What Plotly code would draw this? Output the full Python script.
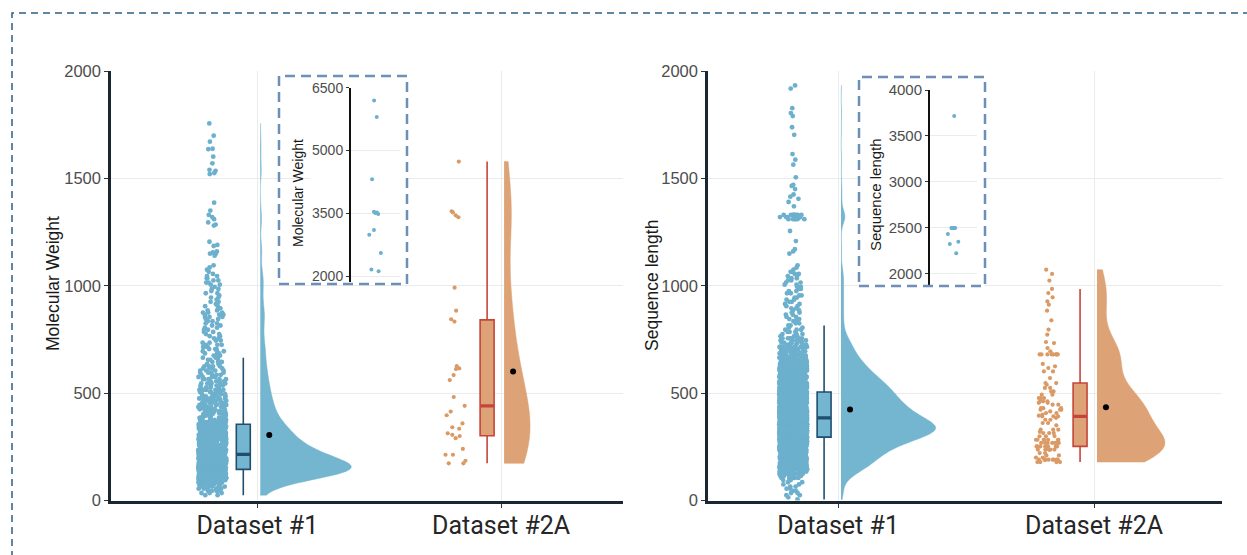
import numpy as np
import plotly.graph_objects as go

# ---------------- data ----------------
categories = ["Dataset #1", "Dataset #2A"]

# Dataset #1, molecular weight < 2000: counts per 10-unit bin, first bin centre 25
mw1_bin_first = 25
mw1_bin_counts = [
    2, 3, 4, 5, 7, 10, 15, 22, 33, 45,
    55, 61, 63, 60, 56, 52, 47, 43, 39, 36,
    33, 30, 28, 26, 24, 22, 21, 20, 19, 18,
    17, 16, 15, 15, 12, 11, 10, 10, 9, 9,
    8, 8, 8, 7, 7, 7, 6, 6, 6, 6,
    5, 5, 5, 5, 5, 4, 4, 4, 4, 4,
    4, 3, 3, 3, 3, 3, 3, 3, 3, 3,
    3, 2, 2, 2, 2, 2, 2, 2, 2, 2,
    2, 2, 2, 3, 3, 3, 2, 2, 2, 1,
    2, 1, 2, 1, 2, 1, 2, 1, 2, 2,
    2, 2, 2, 1, 1, 1, 1, 1,
]
mw1_sparse = [1140, 1150, 1150, 1155, 1160, 1185, 1190, 1205, 1280, 1285, 1295,
              1310, 1320, 1330, 1350, 1387, 1520, 1525, 1535, 1540, 1570, 1601,
              1636, 1638, 1671, 1699, 1756]
mw1_inset = [2117, 2164, 2552, 2993, 3104, 3483, 3507, 3524, 3538, 4313, 5798, 6192]

mw2a = [173, 173, 185, 213, 213, 240, 290, 300, 306, 313, 334, 341, 359, 397, 414,
        441, 482, 561, 584, 612, 615, 626, 833, 844, 884, 991, 1319, 1328, 1342,
        1347, 1578]

# Dataset #1, sequence length < 2000: counts per 10-unit bin, first bin centre 5
sl1_bin_first = 5
sl1_bin_counts = [
    1, 1, 2, 2, 2, 2, 2, 2, 2, 3,
    5, 8, 12, 15, 18, 20, 22, 25, 26, 28,
    30, 31, 34, 36, 39, 43, 47, 52, 57, 62,
    68, 74, 78, 80, 77, 72, 69, 66, 62, 59,
    56, 54, 52, 50, 48, 46, 45, 44, 42, 42,
    40, 38, 37, 35, 34, 32, 30, 28, 26, 24,
    22, 21, 19, 18, 16, 15, 14, 13, 11, 10,
    10, 9, 8, 8, 7, 6, 4, 3, 3, 3,
    2, 2, 2, 2, 2, 2, 2, 2, 2, 2,
    2, 2, 2, 2, 2, 2, 2, 2, 2, 2,
    2, 2, 2, 2, 2, 2, 2, 1, 1, 1,
]
sl1_sparse = [1150, 1160, 1170, 1208, 1255,
              1310, 1310, 1310, 1310, 1310, 1310,
              1320, 1320, 1320, 1320, 1320, 1320, 1320, 1320,
              1330, 1330, 1330, 1330, 1330, 1330, 1330, 1330,
              1370, 1390, 1405, 1415, 1425, 1450, 1465, 1470, 1505, 1564,
              1587, 1613, 1703, 1738, 1790, 1804, 1827, 1918, 1933]
sl1_inset = [2225, 2325, 2350, 2435, 2500, 2500, 2500, 2500, 2500, 2500, 3717]

sl2a = [1075, 1055, 1024, 985, 966, 946, 927, 912, 884, 839, 796, 772, 738, 733, 710, 695,
        680, 680, 680, 680, 680, 680, 680, 680,
        636, 625, 617, 601, 601, 570, 547, 547, 539,
        524, 524, 508, 508, 493, 493, 477, 477, 477, 462, 462, 462,
        455, 455, 446, 446, 430, 430, 430, 423, 423, 423, 415, 407, 407, 400,
        395, 392, 392, 392, 385,
        376, 376, 361, 361, 350,
        330, 330, 330, 320, 314, 314, 314, 300, 299, 299,
        283, 283, 283, 283, 283, 283, 283,
        268, 268, 268, 268, 268, 268, 268,
        252, 252, 252, 252, 252, 252, 252,
        237, 237, 237, 237, 237, 237,
        221, 221, 210, 210, 200, 200,
        190, 190, 190, 190, 190, 190, 190, 190, 190,
        179, 179, 179, 179]

y_titles = ["Molecular Weight", "Sequence length"]
main_ticks = [0, 500, 1000, 1500, 2000]
inset_ticks = [[2000, 3500, 5000, 6500], [2000, 2500, 3000, 3500, 4000]]


def expand(first, counts, step=10):
    centres = first + step * np.arange(len(counts))
    return np.repeat(centres, counts)


def nrd0(v):
    v = np.asarray(v, dtype=float)
    q75, q25 = np.percentile(v, [75, 25])
    lo = min(v.std(ddof=1), (q75 - q25) / 1.34)
    return 0.9 * lo * len(v) ** -0.2


mw1 = np.concatenate([expand(mw1_bin_first, mw1_bin_counts), mw1_sparse])
sl1 = np.concatenate([expand(sl1_bin_first, sl1_bin_counts), sl1_sparse])

# ---------------- styling ----------------
W, H = 1247, 555
BLUE_PT, BLUE_FILL, BLUE_LINE = "#6CB0CD", "#74B5D0", "#1F4E6E"
ORG_PT, ORG_FILL, ORG_LINE = "#DA9A66", "#DDA275", "#C5443C"
AX_COL = "#1C2630"
GRID = "#EBEBEB"
TICK_FONT = dict(family="Liberation Sans, Arial", size=16.5, color="#4D4D4D")
CAT_FONT = dict(family="Roboto, Liberation Sans", size=25, color="#262626")


def px_x(p):
    return p / W


def px_y(p):
    return 1 - p / H


panels = [
    dict(data=[mw1, np.array(mw2a)], inset=mw1_inset, ppu=244.0, xr=[-0.6, 1.5],
         dom=[111, 623], ax=("x", "y"), iax=("x2", "y2"), idom=[351, 400],
         iyr=[1870, 6500], iypx=[87.7, 281.7], half=[91, 26], ifont=14),
    dict(data=[sl1, np.array(sl2a)], inset=sl1_inset, ppu=257.0, xr=[-0.508, 1.5],
         dom=[708, 1222], ax=("x3", "y3"), iax=("x4", "y4"), idom=[930, 977],
         iyr=[1880, 4000], iypx=[90, 285], half=[95, 68], ifont=15),
]

fig = go.Figure()
for p in panels:
    xa, ya = p["ax"]
    ppu = p["ppu"]
    for i, vals in enumerate(p["data"]):
        pt_col, fill, lcol = (BLUE_PT, BLUE_FILL, BLUE_LINE) if i == 0 else (ORG_PT, ORG_FILL, ORG_LINE)
        pos = float(i)
        # jittered raw points
        fig.add_trace(go.Box(y=vals, x0=pos - 45 / ppu, width=28 / ppu, boxpoints="all",
                             jitter=1, pointpos=0, fillcolor="rgba(0,0,0,0)",
                             line=dict(color="rgba(0,0,0,0)", width=0),
                             marker=dict(color=pt_col, size=4.8 if i == 0 else 4.2,
                                         line=dict(width=0)),
                             whiskerwidth=0, hoverinfo="skip", xaxis=xa, yaxis=ya))
        # box (outliers hidden so whiskers stop at 1.5 IQR)
        bx = pos - 14 / ppu
        bw = 14 / ppu
        fig.add_trace(go.Box(y=vals, x0=bx, width=bw, boxpoints="outliers", fillcolor=fill,
                             marker=dict(color="rgba(0,0,0,0)", size=1, opacity=0,
                                         line=dict(width=0)),
                             line=dict(color=lcol, width=1.6), whiskerwidth=0,
                             hoverinfo="skip", xaxis=xa, yaxis=ya))
        med = float(np.median(vals))
        fig.add_trace(go.Scatter(x=[bx - bw / 2, bx + bw / 2], y=[med, med], mode="lines",
                                 line=dict(color=lcol, width=3.2), hoverinfo="skip",
                                 xaxis=xa, yaxis=ya))
        # half violin
        fig.add_trace(go.Violin(y=vals, x0=pos + 3 / ppu, side="positive",
                                width=2 * p["half"][i] / ppu, spanmode="hard",
                                bandwidth=nrd0(vals), points=False, fillcolor=fill,
                                line=dict(color=fill, width=0.5), scalemode="width",
                                box_visible=False, meanline_visible=False,
                                hoverinfo="skip", xaxis=xa, yaxis=ya))
        # mean
        fig.add_trace(go.Scatter(x=[pos + 12 / ppu], y=[float(np.mean(vals))], mode="markers",
                                 marker=dict(color="black", size=6), hoverinfo="skip",
                                 xaxis=xa, yaxis=ya))
    # inset points
    ixa, iya = p["iax"]
    fig.add_trace(go.Box(y=p["inset"], x0=0, width=0.6, boxpoints="all", jitter=1, pointpos=0,
                         fillcolor="rgba(0,0,0,0)", line=dict(color="rgba(0,0,0,0)", width=0),
                         marker=dict(color=BLUE_PT, size=4, line=dict(width=0)),
                         whiskerwidth=0, hoverinfo="skip", xaxis=ixa, yaxis=iya))

ydom = [px_y(500.5), px_y(71)]
layout = dict(width=W, height=H, margin=dict(l=0, r=0, t=0, b=0, pad=0, autoexpand=False),
              paper_bgcolor="white", plot_bgcolor="white", showlegend=False,
              boxmode="overlay", violinmode="overlay")
for k, p in enumerate(panels):
    xa, ya = p["ax"]
    ixa, iya = p["iax"]
    xkey = "xaxis" if xa == "x" else "xaxis" + xa[1:]
    ykey = "yaxis" if ya == "y" else "yaxis" + ya[1:]
    layout[xkey] = dict(domain=[px_x(p["dom"][0]), px_x(p["dom"][1])], range=p["xr"],
                        anchor=ya, tickvals=[0, 1], ticktext=categories, showgrid=True,
                        gridcolor=GRID, gridwidth=1, showline=True, linecolor=AX_COL,
                        linewidth=3, ticks="outside", ticklen=4, tickcolor="#333",
                        tickfont=CAT_FONT, zeroline=False, automargin=False,
                        ticklabelstandoff=-4)
    layout[ykey] = dict(domain=ydom, range=[0, 2000], anchor=xa, tickvals=main_ticks,
                        showgrid=True, gridcolor=GRID, gridwidth=1, showline=True,
                        linecolor=AX_COL, linewidth=2.5, ticks="outside", ticklen=4,
                        tickcolor="#333", tickfont=TICK_FONT, zeroline=False,
                        automargin=False)
    layout["xaxis" + ixa[1:]] = dict(domain=[px_x(p["idom"][0]), px_x(p["idom"][1])],
                                     range=[-1, 1], anchor=iya, showticklabels=False,
                                     showgrid=False, showline=False, zeroline=False, ticks="",
                                     automargin=False)
    layout["yaxis" + iya[1:]] = dict(domain=[px_y(p["iypx"][1]), px_y(p["iypx"][0])],
                                     range=p["iyr"], anchor=ixa, tickvals=inset_ticks[k],
                                     showgrid=True, gridcolor=GRID, showline=True,
                                     linecolor="#111", linewidth=2, ticks="outside",
                                     ticklen=3, tickcolor="#333",
                                     tickfont=dict(family="Liberation Sans, Arial",
                                                   size=p["ifont"], color="#4D4D4D"),
                                     zeroline=False, automargin=False)
fig.update_layout(**layout)

# inset backgrounds (cover the main grid) and dashed frames
fig.add_shape(type="rect", xref="x", yref="y", x0=(311 - 258) / 244, x1=(407 - 258) / 244,
              y0=(500.5 - 284) / 0.21475, y1=(500.5 - 76) / 0.21475, layer="between",
              fillcolor="white", line=dict(width=0))
fig.add_shape(type="rect", xref="x3", yref="y3", x0=(859 - 838) / 257, x1=(985 - 838) / 257,
              y0=(500.5 - 286) / 0.21475, y1=(500.5 - 77) / 0.21475, layer="between",
              fillcolor="white", line=dict(width=0))
for (x0, y0, x1, y1) in [(279, 76, 407, 284), (859, 77, 985, 286)]:
    fig.add_shape(type="rect", xref="paper", yref="paper", x0=px_x(x0), x1=px_x(x1),
                  y0=px_y(y1), y1=px_y(y0), line=dict(color="#6E8FB8", width=2.5,
                                                      dash="10px,6px"),
                  fillcolor="rgba(0,0,0,0)", layer="above")
fig.add_shape(type="rect", xref="paper", yref="paper", x0=px_x(12), x1=px_x(1262),
              y0=px_y(575), y1=px_y(13), line=dict(color="#2F5F80", width=1.5, dash="7px,5px"),
              fillcolor="rgba(0,0,0,0)", layer="above")

# axis titles
for txt, xp, yp, fs in [(y_titles[0], 53, 284, 17.5), (y_titles[1], 652, 286, 17.5),
                        (y_titles[0], 298, 193, 14), (y_titles[1], 876, 195, 15)]:
    fig.add_annotation(text=txt, x=px_x(xp), y=px_y(yp), xref="paper", yref="paper",
                       showarrow=False, textangle=-90, xanchor="center", yanchor="middle",
                       font=dict(family="Liberation Sans, Arial", size=fs, color="#1a1a1a"))

fig.write_html("out.html", config={"responsive": False, "displayModeBar": False},
               post_script="document.body.style.margin='0px';"
                           "document.body.style.overflow='hidden';")
